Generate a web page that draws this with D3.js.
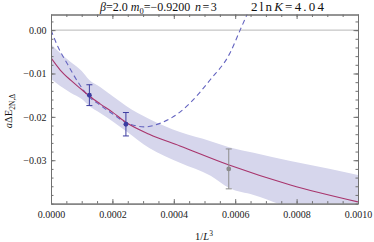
<!DOCTYPE html>
<html>
<head>
<meta charset="utf-8">
<script src="https://cdn.jsdelivr.net/npm/d3@7"></script>
<style>
  body { margin: 0; background: #fff; }
  text { font-family: "Liberation Serif", "DejaVu Serif", serif; }
</style>
</head>
<body>
<div id="chart"></div>
<script>
// data
var fitX = [0, 0.00003, 0.000065, 0.0001, 0.000125, 0.00016, 0.0002, 0.000245, 0.00032, 0.00042, 0.00058, 0.00078, 0.001];
var fitY = [-0.0064, -0.0092, -0.0116, -0.0137, -0.0152, -0.0170, -0.0189, -0.0213, -0.0240, -0.0267, -0.0311, -0.0357, -0.0396];

var bandX     = [0, 0.00003, 0.000065, 0.0001, 0.000125, 0.00016, 0.0002, 0.000245, 0.00032, 0.00042, 0.00052, 0.00058, 0.00066, 0.00078, 0.00091, 0.001];
var bandUpper = [-0.0032, -0.0053, -0.0074, -0.0094, -0.0115, -0.0131, -0.0152, -0.0175, -0.0205, -0.0235, -0.0256, -0.0270, -0.0283, -0.0302, -0.0320, -0.0334];
var bandLower = [-0.0113, -0.0129, -0.0145, -0.0159, -0.0175, -0.0191, -0.0210, -0.0233, -0.0272, -0.0306, -0.0336, -0.0364, -0.0380, -0.0410, -0.0436, -0.0454];

var dashX = [0, 0.000023, 0.000055, 0.000088, 0.00012, 0.00016, 0.0002, 0.000241, 0.000306, 0.000355, 0.00042, 0.000453, 0.000518, 0.000583, 0.000616, 0.000648];
var dashY = [0, -0.0039, -0.0080, -0.0120, -0.0151, -0.0173, -0.0193, -0.0212, -0.0223, -0.0215, -0.0189, -0.0168, -0.0115, -0.0053, 0.0000, 0.0051];

var ptsX   = [0.000125, 0.000244, 0.000579];
var ptsY   = [-0.0150, -0.0217, -0.0320];
var ptsErr = [0.0024, 0.0027, 0.0046];
var ptsInFit = [true, true, false];

var xMajor = [0, 0.0002, 0.0004, 0.0006, 0.0008, 0.001];
var yMajor = [0, -0.01, -0.02, -0.03];

var W = 374, H = 242;
var pLeft = 51, pRight = 358, pTop = 14.5, pBottom = 203.6;

var svg = d3.select("#chart").append("svg")
    .attr("width", W)
    .attr("height", H);

var x = d3.scaleLinear().domain([0, 0.001]).range([pLeft, pRight]);
var y = d3.scaleLinear().domain([-0.04, 0.0036]).range([pBottom, pTop]);

svg.append("clipPath").attr("id", "clip")
    .append("rect")
    .attr("x", pLeft).attr("y", pTop)
    .attr("width", pRight - pLeft).attr("height", pBottom - pTop);

var plot = svg.append("g").attr("clip-path", "url(#clip)");

// zero line
plot.append("line")
    .attr("x1", pLeft).attr("x2", pRight)
    .attr("y1", y(0)).attr("y2", y(0))
    .attr("stroke", "#b8b8b8")
    .attr("stroke-width", 1);

// band
var band = bandX.map(function(d, i) { return {x: d, lo: bandLower[i], hi: bandUpper[i]}; });
plot.append("path")
    .datum(band)
    .attr("fill", "#d6d6ec")
    .attr("d", d3.area()
        .curve(d3.curveMonotoneX)
        .x(function(d) { return x(d.x); })
        .y0(function(d) { return y(d.lo); })
        .y1(function(d) { return y(d.hi); }));

// dashed curve
var dash = dashX.map(function(d, i) { return {x: d, y: dashY[i]}; });
plot.append("path")
    .datum(dash)
    .attr("fill", "none")
    .attr("stroke", "#6464c0")
    .attr("stroke-width", 1.1)
    .attr("stroke-dasharray", "5,3.5")
    .attr("d", d3.line()
        .curve(d3.curveMonotoneX)
        .x(function(d) { return x(d.x); })
        .y(function(d) { return y(d.y); }));

// fit line
var fit = fitX.map(function(d, i) { return {x: d, y: fitY[i]}; });
plot.append("path")
    .datum(fit)
    .attr("fill", "none")
    .attr("stroke", "#a8346c")
    .attr("stroke-width", 1.1)
    .attr("d", d3.line()
        .curve(d3.curveMonotoneX)
        .x(function(d) { return x(d.x); })
        .y(function(d) { return y(d.y); }));

// data points with error bars
var pts = ptsX.map(function(d, i) { return {x: d, y: ptsY[i], e: ptsErr[i], fit: ptsInFit[i]}; });
var pg = svg.append("g").selectAll("g").data(pts).join("g")
    .attr("stroke", function(d) { return d.fit ? "#3c3ca0" : "#8c8c8c"; })
    .attr("fill", function(d) { return d.fit ? "#3c3ca0" : "#8c8c8c"; });
pg.append("line")
    .attr("x1", function(d) { return x(d.x); })
    .attr("x2", function(d) { return x(d.x); })
    .attr("y1", function(d) { return y(d.y + d.e); })
    .attr("y2", function(d) { return y(d.y - d.e); })
    .attr("stroke-width", 1);
pg.selectAll(".cap").data(function(d) { return [d.y + d.e, d.y - d.e].map(function(v) { return {x: d.x, v: v}; }); })
    .join("line")
    .attr("x1", function(d) { return x(d.x) - 3; })
    .attr("x2", function(d) { return x(d.x) + 3; })
    .attr("y1", function(d) { return y(d.v); })
    .attr("y2", function(d) { return y(d.v); })
    .attr("stroke-width", 1);
pg.append("circle")
    .attr("cx", function(d) { return x(d.x); })
    .attr("cy", function(d) { return y(d.y); })
    .attr("r", 2.4)
    .attr("stroke", "none");

// frame + ticks
function styleAxis(g) {
    g.select(".domain").attr("stroke", "#707070");
    g.selectAll(".tick line").attr("stroke", "#707070");
    g.selectAll("text").attr("fill", "#222").attr("font-size", 10)
        .attr("font-family", "Liberation Serif, serif");
}
var xMinor = d3.range(0, 0.00100001, 0.00005);
var yMinor = d3.range(-0.04, 0.0036, 0.002);

svg.append("g").attr("transform", "translate(0," + pBottom + ")")
    .call(d3.axisBottom(x).tickValues(xMinor).tickSize(-2.5).tickSizeOuter(0).tickFormat(""))
    .call(styleAxis);
svg.append("g").attr("transform", "translate(0," + pBottom + ")")
    .call(d3.axisBottom(x).tickValues(xMajor).tickSize(-4.5).tickSizeOuter(0).tickPadding(7).tickFormat(d3.format(".4f")))
    .call(styleAxis);
svg.append("g").attr("transform", "translate(0," + pTop + ")")
    .call(d3.axisTop(x).tickValues(xMinor).tickSize(-2.5).tickSizeOuter(0).tickFormat(""))
    .call(styleAxis);
svg.append("g").attr("transform", "translate(0," + pTop + ")")
    .call(d3.axisTop(x).tickValues(xMajor).tickSize(-4.5).tickSizeOuter(0).tickFormat(""))
    .call(styleAxis);
svg.append("g").attr("transform", "translate(" + pLeft + ",0)")
    .call(d3.axisLeft(y).tickValues(yMinor).tickSize(-2.5).tickSizeOuter(0).tickFormat(""))
    .call(styleAxis);
svg.append("g").attr("transform", "translate(" + pLeft + ",0)")
    .call(d3.axisLeft(y).tickValues(yMajor).tickSize(-4.5).tickSizeOuter(0).tickPadding(4.5).tickFormat(d3.format(".2f")))
    .call(styleAxis);
svg.append("g").attr("transform", "translate(" + pRight + ",0)")
    .call(d3.axisRight(y).tickValues(yMinor).tickSize(-2.5).tickSizeOuter(0).tickFormat(""))
    .call(styleAxis);
svg.append("g").attr("transform", "translate(" + pRight + ",0)")
    .call(d3.axisRight(y).tickValues(yMajor).tickSize(-4.5).tickSizeOuter(0).tickFormat(""))
    .call(styleAxis);

// title
var title = svg.append("text").attr("x", 100).attr("y", 11).attr("font-size", 12).attr("fill", "#111");
title.append("tspan").attr("font-style", "italic").text("β");
title.append("tspan").text("=2.0 ");
title.append("tspan").attr("font-style", "italic").text("m");
title.append("tspan").attr("font-size", 8.5).attr("dy", 2.5).text("0");
title.append("tspan").attr("dy", -2.5).text("=−0.9200");

var t2 = svg.append("text").attr("x", 195).attr("y", 11).attr("font-size", 12).attr("fill", "#111")
    .attr("letter-spacing", 1.5);
t2.append("tspan").attr("font-style", "italic").text("n");
t2.append("tspan").text("=3");

var t3 = svg.append("text").attr("x", 251).attr("y", 11).attr("font-size", 13).attr("fill", "#111")
    .attr("letter-spacing", 2.2);
t3.append("tspan").text("2ln");
t3.append("tspan").attr("font-style", "italic").text("K");
t3.append("tspan").text("=4.04");

// axis labels
var xl = svg.append("text").attr("x", 204).attr("y", 240).attr("text-anchor", "middle")
    .attr("font-size", 10.5).attr("fill", "#111");
xl.append("tspan").text("1/");
xl.append("tspan").attr("font-style", "italic").text("L");
xl.append("tspan").attr("font-size", 7.5).attr("dy", -4).text("3");

var yl = svg.append("text").attr("transform", "translate(12,111) rotate(-90)")
    .attr("text-anchor", "middle").attr("font-size", 10.5).attr("fill", "#111");
yl.append("tspan").attr("font-style", "italic").text("a");
yl.append("tspan").text("ΔE");
yl.append("tspan").attr("font-size", 7.5).attr("dy", 2.5).text("2N,Δ");
</script>
</body>
</html>
